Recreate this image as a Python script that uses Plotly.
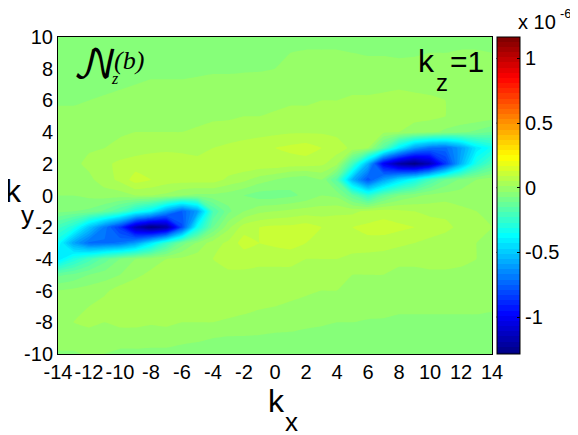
import plotly.graph_objects as go

kx = list(range(-14, 15))
ky = list(range(10, -11, -1))
cbar_ticks = [-1, -0.5, 0, 0.5, 1]
cbar_labels = ["-1", "-0.5", "0", "0.5", "1"]
x_ticks = list(range(-14, 15, 2))
y_ticks = list(range(-10, 11, 2))
baseline = -0.06  # level of the flat background, in units of 1e-6
zmin, zmax = -1.286, 1.166

# spectrum values above the background, in units of 1e-6, rows ky = 10 ... -10, columns kx = -14 ... 14
z_rel = [
 [.01,.01,.01,.01,.01,.01,.01,.01,.01,.01,.01,.01,.01,.01,.01,.01,.01,.01,.01,.01,.01,.01,.01,.01,.015,.015,.01,.01,.01],
 [.01,.01,.01,.01,.01,.01,.01,.015,.015,.015,.015,.015,.02,.02,.02,.03,.035,.035,.035,.03,.025,.025,.02,.025,.03,.03,.035,.035,.03],
 [.02,.02,.02,.02,.02,.02,.02,.02,.02,.02,.025,.025,.025,.025,.03,.035,.05,.05,.05,.05,.05,.05,.05,.045,.045,.04,.04,.04,.04],
 [.02,.02,.02,.02,.025,.03,.035,.035,.035,.04,.04,.04,.045,.05,.05,.05,.05,.055,.055,.06,.06,.06,.065,.065,.06,.06,.05,.05,.04],
 [.025,.025,.03,.035,.04,.04,.045,.045,.05,.05,.05,.055,.055,.06,.06,.065,.065,.07,.07,.075,.075,.08,.08,.075,.075,.07,.065,.06,.055],
 [.04,.04,.045,.05,.05,.055,.055,.06,.06,.06,.065,.065,.07,.07,.075,.08,.08,.08,.085,.085,.085,.08,.08,.08,.08,.07,.065,.06,.055],
 [.05,.05,.055,.06,.065,.07,.07,.07,.07,.075,.08,.085,.09,.095,.10,.105,.105,.105,.10,.095,.09,.08,.07,.055,.04,.02,.0,-.02,-.05],
 [.06,.065,.065,.07,.08,.09,.095,.10,.10,.10,.11,.12,.13,.14,.15,.16,.17,.15,.13,.10,.07,-.1,-.4,-.6,-.7,-.72,-.6,-.42,-.27],
 [.07,.06,.08,.1,.12,.13,.14,.14,.13,.12,.13,.14,.14,.14,.14,.13,.13,.12,.08,-.15,-.55,-1.0,-1.2,-1.28,-1.15,-.85,-.55,-.3,-.12],
 [.05,.05,.06,.09,.12,.17,.15,.13,.13,.13,.13,.10,.08,.05,.03,.01,.0,.03,-.1,-.55,-.78,-.6,-.45,-.28,-.14,-.05,0,.03,.05],
 [.03,.03,.04,.05,.05,.07,.07,.06,.03,.02,.02,.01,-.01,-.03,-.03,-.02,0,.03,.02,-.08,-.2,-.08,-.01,.02,.04,.05,.05,.05,.05],
 [0,-.01,-.02,-.06,-.13,-.25,-.4,-.6,-.75,-.6,-.13,-.02,.03,.06,.07,.08,.09,.09,.1,.1,.12,.13,.12,.11,.1,.1,.08,.07,.06],
 [-.15,-.3,-.5,-.68,-.85,-1.15,-1.28,-1.2,-.8,-.28,-.05,.06,.13,.15,.16,.16,.17,.15,.14,.15,.16,.17,.16,.15,.13,.12,.1,.09,.07],
 [-.35,-.58,-.72,-.72,-.7,-.6,-.42,-.18,-.03,.04,.09,.12,.17,.15,.16,.17,.15,.14,.14,.13,.14,.13,.12,.11,.1,.09,.08,.07,.07],
 [-.42,-.3,-.15,-.07,-.01,.03,.05,.07,.08,.09,.11,.12,.12,.12,.12,.12,.11,.11,.11,.1,.09,.09,.08,.08,.09,.09,.08,.07,.07],
 [-.06,-.04,-.01,.01,.03,.06,.08,.10,.10,.10,.10,.105,.105,.10,.10,.10,.09,.08,.08,.07,.07,.07,.06,.06,.06,.06,.06,.06,.05],
 [.03,.04,.05,.06,.09,.1,.095,.09,.1,.105,.105,.10,.10,.09,.085,.08,.075,.07,.07,.065,.06,.055,.05,.05,.05,.05,.05,.05,.05],
 [.05,.06,.07,.09,.10,.105,.105,.10,.10,.09,.09,.085,.08,.075,.07,.065,.06,.06,.055,.05,.05,.045,.04,.04,.04,.04,.04,.04,.035],
 [.06,.07,.08,.07,.08,.08,.075,.08,.07,.07,.07,.065,.06,.05,.05,.045,.04,.035,.03,.03,.025,.025,.02,.02,.02,.02,.02,.02,.02],
 [.05,.05,.05,.05,.05,.05,.045,.045,.04,.035,.03,.025,.025,.025,.02,.02,.015,.015,.015,.01,.01,.01,.01,.01,.01,.01,.01,.01,.01],
 [.025,.025,.035,.03,.02,.02,.02,.02,.015,.015,.01,.01,.01,.01,.01,.01,.01,.01,.01,.01,.01,.01,.01,.01,.01,.01,.01,.01,.01],
]
z = [[v + baseline if v > -0.3 else v for v in row] for row in z_rel]

jet = [[0, "rgb(0,0,128)"], [.125, "rgb(0,0,255)"], [.375, "rgb(0,255,255)"],
       [.625, "rgb(255,255,0)"], [.875, "rgb(255,0,0)"], [1, "rgb(128,0,0)"]]
FONT = "Liberation Sans"

fig = go.Figure(go.Contour(
    x=kx, y=ky, z=z, zmin=zmin, zmax=zmax, colorscale=jet, zauto=False,
    contours=dict(coloring="fill", start=-1.31, end=1.17, size=0.04, showlines=False),
    line=dict(width=0, smoothing=0.3),
    colorbar=dict(x=1.0104, xanchor="left", xpad=0, ypad=0, y=0, yanchor="bottom", len=1,
                  thickness=23, outlinecolor="black", outlinewidth=1,
                  tickvals=cbar_ticks, ticktext=cbar_labels,
                  ticks="inside", ticklen=3, tickcolor="black",
                  tickfont=dict(family=FONT, size=20, color="black")),
))

# the page body adds an 8 px margin, so the figure is 8 px smaller than the window
fig.update_layout(
    width=570, height=427, margin=dict(l=50, r=85.5, t=29, b=81, pad=0, autoexpand=False),
    paper_bgcolor="white", plot_bgcolor="white", showlegend=False,
    xaxis=dict(range=[-14, 14], tickvals=x_ticks, ticktext=[str(v) for v in x_ticks],
               ticks="", tickangle=0, showgrid=False, zeroline=False,
               showline=True, mirror=True, linecolor="black", linewidth=1, automargin=False,
               tickfont=dict(family=FONT, size=20, color="black")),
    yaxis=dict(range=[-10, 10], tickvals=y_ticks, ticktext=[str(v) for v in y_ticks],
               ticks="", showgrid=False, zeroline=False,
               showline=True, mirror=True, linecolor="black", linewidth=1, automargin=False,
               tickfont=dict(family=FONT, size=20, color="black")),
)

# colorbar ticks on its left edge as well
for v in cbar_ticks:
    yp = (v - zmin) / (zmax - zmin)
    fig.add_shape(type="line", xref="paper", yref="paper", x0=1.0104, x1=1.0104 + 3 / 434.5,
                  y0=yp, y1=yp, line=dict(color="black", width=1))

def label(text, x, y, size, family=FONT, italic=False):
    fig.add_annotation(xref="paper", yref="paper", x=(x - 58) / 434.5, y=(354 - y) / 317,
                       text=f"<i>{text}</i>" if italic else text, showarrow=False,
                       xanchor="center", yanchor="middle",
                       font=dict(family=family, size=size, color="black"))

label("k", 277, 401, 32)
label("x", 292, 422, 26)
label("k", 13, 191, 32)
label("y", 27, 215, 26)
label("k", 427, 61, 32)
label("z", 442, 82, 24)
label("=1", 467, 62, 30)
label("x 10", 538, 22, 20)
label("-6", 567, 13, 13)
label("𝒩", 96, 66, 40, family="DejaVu Math TeX Gyre, DejaVu Serif")
label("(b)", 129, 61, 26, family="Liberation Serif", italic=True)
label("z", 115, 78, 16, family="Liberation Serif", italic=True)

fig.write_html("out.html")
